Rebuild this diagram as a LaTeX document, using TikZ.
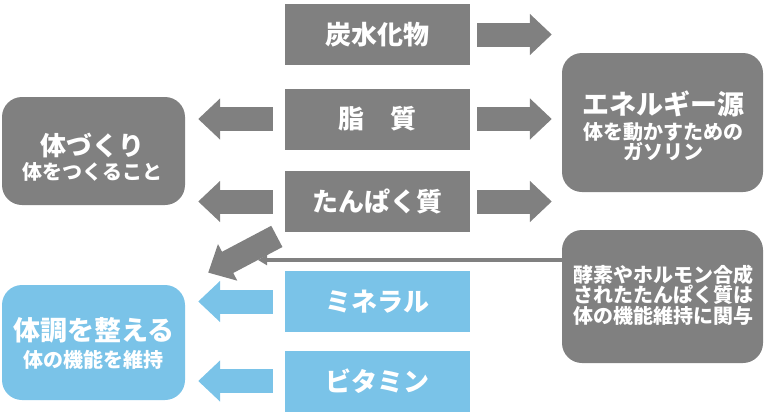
\documentclass[tikz,border=0pt]{standalone}
\usepackage{fontspec}
\newfontfamily\cjk{Noto Sans CJK JP}
\usetikzlibrary{arrows.meta}
\definecolor{boxgray}{RGB}{128,128,128}
\definecolor{boxblue}{RGB}{122,195,232}

\begin{document}
\begin{tikzpicture}[x=1pt,y=-1pt,
    item/.style={fill=#1,minimum width=185pt,minimum height=61pt,inner sep=0pt,
      text=white,font=\cjk\bfseries\fontsize{26}{26}\selectfont},
    goal/.style={fill=#1,rounded corners=20pt,inner sep=0pt},
    caption/.style={inner sep=0pt,text=white,align=center,font=\cjk\bfseries},
    fat arrow/.style={draw=#1,line width=24pt,-{Triangle[width=40pt,length=22pt]}},
    thin arrow/.style={draw=boxgray,line width=3.5pt,-{Triangle[width=10pt,length=9pt]}}]
  \useasboundingbox (0,0) rectangle (764,416);
  % nutrients
  \node[item=boxgray] (carb) at (377.5,34.5) {炭水化物};
  \node[item=boxgray] (fat) at (377.5,119) {脂　質};
  \node[item=boxgray] (protein) at (377.5,201.5) {たんぱく質};
  \node[item=boxblue] (mineral) at (377.5,301.5) {ミネラル};
  \node[item=boxblue] (vitamin) at (377.5,381) {ビタミン};
  % roles
  \node[goal=boxgray,minimum width=183pt,minimum height=108pt] (body) at (93.5,151) {};
  \node[goal=boxgray,minimum width=201pt,minimum height=139pt] (energy) at (662.5,122.5) {};
  \node[goal=boxblue,minimum width=183pt,minimum height=115pt] (health) at (93.5,342.5) {};
  \node[goal=boxgray,minimum width=201pt,minimum height=133pt] (enzyme) at (662.5,296.5) {};
  \node[caption] (body text) at (92.5,157)
    {\fontsize{26}{26}\selectfont 体づくり\\[3pt]\fontsize{20}{20}\selectfont 体をつくること};
  \node[caption] (energy text) at (663,126)
    {\fontsize{27}{27}\selectfont エネルギー源\\[4pt]\fontsize{20}{20}\selectfont 体を動かすための\\\fontsize{20}{20}\selectfont ガソリン};
  \node[caption] (health text) at (94,343)
    {\fontsize{27}{27}\selectfont 体調を整える\\[6pt]\fontsize{20}{20}\selectfont 体の機能を維持};
  \node[caption] (enzyme text) at (663,295)
    {\fontsize{20}{22}\selectfont 酵素やホルモン合成\\\fontsize{20}{22}\selectfont されたたんぱく質は\\\fontsize{20}{22}\selectfont 体の機能維持に関与};
  \coordinate (hit) at (258,260);
  % arrows
  \draw[fat arrow=boxgray,shorten <=7pt,shorten >=10pt] (carb.east) -- (carb.east -| energy.west);
  \draw[fat arrow=boxgray,shorten <=7pt,shorten >=10pt] (fat.east) -- (fat.east -| energy.west);
  \draw[fat arrow=boxgray,shorten <=7pt,shorten >=10pt] (protein.east) -- (protein.east -| energy.west);
  \draw[fat arrow=boxgray,shorten <=12pt,shorten >=13pt] (fat.west) -- (fat.west -| body.east);
  \draw[fat arrow=boxgray,shorten <=12pt,shorten >=13pt] (protein.west) -- (protein.west -| body.east);
  \draw[fat arrow=boxgray,shorten <=9pt,shorten >=26pt] (protein.south west) -- (health.north east);
  \draw[fat arrow=boxblue,shorten <=12pt,shorten >=13pt] (mineral.west) -- (mineral.west -| health.east);
  \draw[fat arrow=boxblue,shorten <=12pt,shorten >=13pt] (vitamin.west) -- (vitamin.west -| health.east);
  \draw[thin arrow] (hit -| enzyme.west) -- (hit);
\end{tikzpicture}
\end{document}
